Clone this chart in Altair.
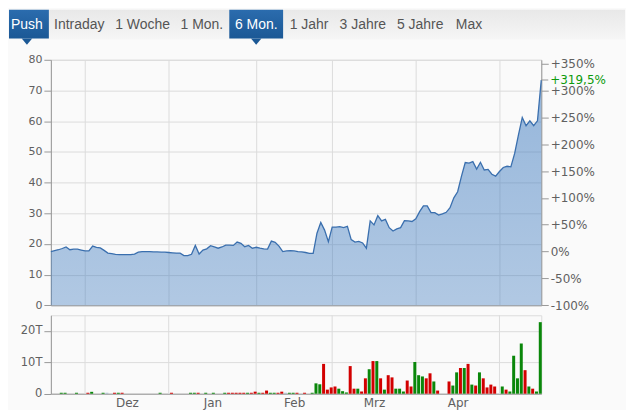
import altair as alt
import pandas as pd

# ---------------- data ----------------
START_DATE = "2019-11-19"
END_DATE = "2020-05-18"

PRICE = [
    17.5, 17.8, 18.1, 18.5, 19.0, 18.1, 18.3, 18.3, 18.0, 17.7,
    17.7, 19.3, 18.9, 18.7, 17.9, 17.0, 16.8, 16.6, 16.5, 16.5,
    16.5, 16.5, 16.7, 17.3, 17.5, 17.5, 17.5, 17.4, 17.4, 17.3,
    17.3, 17.2, 17.1, 17.0, 17.0, 16.2, 16.2, 16.6, 19.5, 16.7,
    18.0, 18.4, 19.4, 19.0, 18.6, 19.0, 19.6, 19.6, 19.5, 20.6,
    20.2, 19.1, 19.5, 18.6, 18.9, 18.6, 18.4, 18.3, 20.9, 20.5,
    19.3, 17.5, 17.7, 17.8, 17.7, 17.5, 17.4, 17.2, 16.9, 16.9,
    23.5, 27.0, 24.5, 20.7, 25.5, 25.5, 25.6, 25.3, 25.7, 21.4,
    20.6, 20.8, 20.3, 18.6, 27.5, 26.2, 29.2, 27.5, 28.0, 25.3,
    24.2, 24.9, 25.3, 27.6, 27.5, 27.3, 28.2, 30.5, 32.4, 32.4,
    30.2, 30.2, 29.4, 29.8, 30.3, 31.8, 35.0, 37.0, 42.0, 46.5,
    46.3, 46.8, 44.4, 46.6, 44.1, 44.3, 42.7, 42.1, 43.6, 44.9,
    45.3, 45.1, 49.5, 55.5, 61.2, 58.5, 60.1, 58.5, 60.1, 73.41,
]

# volume in thousands (T)
VOLUME = [
    0, 0, 0, 0.3, 0.3, 0, 0, 0.3, 0, 0,
    0.3, 0.6, 0, 0, 0.3, 0.3, 0, 0.3, 0.3, 0.3,
    0, 0, 0, 0, 0, 0, 0, 0, 0, 0.3,
    0, 0, 0.3, 0, 0, 0, 0, 0.3, 0.3, 0.3,
    0, 0.3, 0, 0.3, 0, 0, 0.3, 0.3, 0.3, 0.3,
    0.3, 0.3, 0.3, 0.3, 0.65, 0.3, 0.3, 1.0, 0.3, 0.3,
    0.3, 0.65, 0.3, 0.3, 0.3, 0.3, 0, 0.3, 0, 0.3,
    3.3, 3.0, 9.5, 1.3, 2.0, 2.3, 1.6, 0.8, 0.4, 8.8,
    1.6, 1.6, 0.7, 4.9, 7.8, 10.4, 10.4, 4.9, 1.3, 5.9,
    5.2, 1.6, 1.6, 0.7, 4.2, 2.3, 10.1, 5.9, 5.5, 4.9,
    6.5, 3.9, 1.0, 0, 0, 3.9, 2.6, 6.8, 8.2, 8.2,
    9.5, 2.9, 2.6, 6.8, 4.9, 2.0, 2.9, 2.3, 0, 2.3,
    1.3, 0.7, 12.1, 4.9, 16.0, 7.5, 2.3, 1.6, 0.7, 22.8,
]

DIRECTION = [
    "", "", "", "u", "u", "", "", "u", "", "",
    "d", "u", "", "", "u", "f", "", "d", "u", "d",
    "", "", "", "", "", "", "", "", "", "u",
    "", "", "d", "", "", "", "", "u", "u", "d",
    "", "u", "", "u", "", "", "u", "d", "d", "d",
    "d", "d", "u", "d", "d", "u", "d", "d", "u", "u",
    "d", "d", "f", "u", "u", "d", "", "d", "", "u",
    "u", "u", "d", "d", "d", "d", "u", "u", "u", "d",
    "d", "u", "d", "d", "u", "d", "u", "d", "u", "d",
    "d", "u", "u", "u", "d", "d", "u", "u", "u", "d",
    "d", "u", "d", "", "", "d", "u", "u", "d", "u",
    "d", "u", "d", "u", "d", "d", "d", "d", "", "u",
    "d", "u", "u", "u", "u", "d", "u", "d", "u", "u",
]

MONTH_LABELS = ["Dez", "Jan", "Feb", "Mrz", "Apr"]
PRICE_TICKS = [0, 10, 20, 30, 40, 50, 60, 70, 80]
PCT_TICKS = [-100, -50, 0, 50, 100, 150, 200, 250, 300, 350]
VOL_TICKS = [0, 10, 20]

TABS = ["Push", "Intraday", "1 Woche", "1 Mon.", "6 Mon.", "1 Jahr", "3 Jahre", "5 Jahre", "Max"]
ACTIVE_TABS = ["Push", "6 Mon."]

# ---------------- layout / style ----------------
PLOT_W = 492
MAIN_H = 246.3
VOL_H = 78.7
SPACING = 9.3
HDR_TOP, HDR_BOTTOM = 8, 48.4
TAB_CX = [26, 78.5, 142, 201.5, 256, 309, 363, 420.5, 469.5]
ACTIVE_BOX = {"Push": (8, 48), "6 Mon.": (229, 283)}

GRID = "#dcdcdc"
AXIS = "#999999"
LABEL = "#606060"
LINE = "#3a6fae"
GREEN_TXT = "#0c9a0c"
BAR_UP, BAR_DOWN, BAR_FLAT = "#0a870a", "#d20000", "#a9bdd1"
FONT = "DejaVu Sans"
TAB_FONT = "Liberation Sans, Arial, sans-serif"

# ---------------- derived tables ----------------
dates = pd.bdate_range(START_DATE, END_DATE)
n = len(dates)
idx = list(range(n))
base = PRICE[0]
df = pd.DataFrame({"i": idx, "date": dates, "price": PRICE,
                   "vol": VOLUME, "dir": DIRECTION})
df["pct"] = (df["price"] / base - 1) * 100

month_starts = [i for i in range(1, n) if dates[i].month != dates[i - 1].month]
month_mids = [(a + b) / 2 for a, b in zip(month_starts[:-1], month_starts[1:])]
label_expr = ""
for v, lab in zip(month_mids, MONTH_LABELS):
    label_expr += f"datum.value == {v} ? '{lab}' : "
label_expr += "''"

last = df.iloc[[-1]].copy()
last_pct = (PRICE[-1] / base - 1) * 100
last["label"] = ("+" if last_pct > 0 else "") + f"{last_pct:.1f}%".replace(".", ",")
pct_top = (PRICE_TICKS[-1] / base - 1) * 100

xscale = alt.Scale(domain=[0, n - 1], nice=False, zero=False, padding=0)
pscale = alt.Scale(domain=[PRICE_TICKS[0], PRICE_TICKS[-1]], nice=False, zero=False)

# ---------------- main price panel ----------------
area_fill = alt.Gradient(
    gradient="linear",
    stops=[alt.GradientStop(color="rgba(58,120,190,0.52)", offset=0),
           alt.GradientStop(color="rgba(58,120,190,0.38)", offset=1)],
    x1=1, x2=1, y1=0, y2=1,
)

area = alt.Chart(df).mark_area(
    color=area_fill, opacity=1, fillOpacity=1,
    line={"color": LINE, "strokeWidth": 1.3, "opacity": 1}
).encode(
    x=alt.X("i:Q", scale=xscale, title=None,
            axis=alt.Axis(values=month_starts, grid=True, gridColor=GRID, labels=False,
                          ticks=False, domain=True, domainColor=AXIS)),
    y=alt.Y("price:Q", scale=pscale, title=None,
            axis=alt.Axis(values=PRICE_TICKS, grid=True, gridColor=GRID, tickSize=7,
                          tickColor=AXIS, domainColor=AXIS, labelPadding=2,
                          labelFont=FONT, labelFontSize=11, labelColor=LABEL,
                          labelOverlap=False)),
)

right_axis = alt.Chart(last).mark_rule(opacity=0).encode(
    y=alt.Y("pct:Q", title=None,
            scale=alt.Scale(domain=[-100, pct_top], nice=False, zero=False),
            axis=alt.Axis(orient="right", values=PCT_TICKS, grid=False, tickSize=7,
                          tickColor=AXIS, domainColor=AXIS, labelPadding=2,
                          labelFont=FONT, labelFontSize=12, labelColor=LABEL,
                          labelOverlap=False,
                          labelExpr="(datum.value > 0 ? '+' : '') + datum.value + '%'")),
)

last_tick = alt.Chart(last).mark_rule(color=AXIS).encode(
    x=alt.value(PLOT_W), x2=alt.value(PLOT_W + 7),
    y=alt.Y("price:Q", scale=pscale, axis=None),
)

last_label = alt.Chart(last).mark_text(
    align="left", baseline="middle", font=FONT, fontSize=12, color=GREEN_TXT
).encode(
    x=alt.value(PLOT_W + 9),
    y=alt.Y("price:Q", scale=pscale, axis=None),
    text="label:N",
)

main = alt.layer(area, right_axis, last_tick, last_label).resolve_scale(
    y="independent"
).properties(width=PLOT_W, height=MAIN_H)

# ---------------- volume panel ----------------
vol_df = df[df["vol"] > 0]

vol_x_axis = alt.Axis(values=month_mids, labelExpr=label_expr, grid=False, ticks=False,
                      domainColor=AXIS, labelPadding=4, labelFont=FONT,
                      labelFontSize=12, labelColor=LABEL, labelOverlap=False,
                      labelFlush=False)

month_rules = alt.Chart(pd.DataFrame({"i": month_starts})).mark_rule(
    color=GRID
).encode(x=alt.X("i:Q", scale=xscale, title=None, axis=vol_x_axis))

bars = alt.Chart(vol_df).mark_bar(size=3, xOffset=-1, opacity=1).encode(
    x=alt.X("i:Q", scale=xscale, title=None, axis=vol_x_axis),
    y=alt.Y("vol:Q", title=None,
            scale=alt.Scale(domain=[0, 25], nice=False, zero=True),
            axis=alt.Axis(values=VOL_TICKS, grid=True, gridColor=GRID, tickSize=7,
                          tickColor=AXIS, domainColor=AXIS, labelPadding=2,
                          labelFont=FONT, labelFontSize=11.5, labelColor=LABEL,
                          labelExpr="datum.value == 0 ? '0' : datum.value + 'T'")),
    color=alt.Color("dir:N", legend=None,
                    scale=alt.Scale(domain=["u", "d", "f"], range=[BAR_UP, BAR_DOWN, BAR_FLAT])),
)

volume = alt.layer(month_rules, bars).properties(width=PLOT_W, height=VOL_H)

# ---------------- tab bar ----------------
hx = alt.Scale(domain=[50, 50 + PLOT_W], nice=False, zero=False)
hy = alt.Scale(domain=[HDR_BOTTOM, HDR_TOP], nice=False, zero=False)

bar_bg = alt.Chart(pd.DataFrame({"x": [8], "x2": [626], "y": [8], "y2": [38]})).mark_rect(
    color=alt.Gradient(gradient="linear",
                       stops=[alt.GradientStop(color="#e8e8e8", offset=0),
                              alt.GradientStop(color="#f6f6f6", offset=1)],
                       x1=0, x2=0, y1=0, y2=1)
).encode(x=alt.X("x:Q", scale=hx, axis=None), x2="x2",
         y=alt.Y("y:Q", scale=hy, axis=None), y2="y2")

btn_df = pd.DataFrame({
    "x": [ACTIVE_BOX[t][0] for t in ACTIVE_TABS],
    "x2": [ACTIVE_BOX[t][1] for t in ACTIVE_TABS],
    "cx": [TAB_CX[TABS.index(t)] for t in ACTIVE_TABS],
    "y": [8] * len(ACTIVE_TABS), "y2": [37] * len(ACTIVE_TABS),
})
btn_fill = alt.Gradient(gradient="linear",
                        stops=[alt.GradientStop(color="#2b6cae", offset=0),
                               alt.GradientStop(color="#1b5895", offset=1)],
                        x1=0, x2=0, y1=0, y2=1)
buttons = alt.Chart(btn_df).mark_rect(color=btn_fill).encode(
    x=alt.X("x:Q", scale=hx, axis=None), x2="x2",
    y=alt.Y("y:Q", scale=hy, axis=None), y2="y2")
pointers = alt.Chart(btn_df).mark_point(
    shape="M-1,0L1,0L0,1.2Z", filled=True, size=110, color="#1b5895", opacity=1
).encode(x=alt.X("cx:Q", scale=hx, axis=None), y=alt.Y("y2:Q", scale=hy, axis=None))

tab_df = pd.DataFrame({"tab": TABS, "cx": TAB_CX, "ty": [27.3] * len(TABS),
                       "active": [t in ACTIVE_TABS for t in TABS]})
tab_on = alt.Chart(tab_df[tab_df["active"]]).mark_text(
    font=TAB_FONT, fontSize=14, baseline="alphabetic", align="center", color="#ffffff"
).encode(x=alt.X("cx:Q", scale=hx, axis=None), y=alt.Y("ty:Q", scale=hy, axis=None),
         text="tab:N")
tab_off = alt.Chart(tab_df[~tab_df["active"]]).mark_text(
    font=TAB_FONT, fontSize=14, baseline="alphabetic", align="center", color="#555555"
).encode(x=alt.X("cx:Q", scale=hx, axis=None), y=alt.Y("ty:Q", scale=hy, axis=None),
         text="tab:N")

header = alt.layer(bar_bg, buttons, pointers, tab_on, tab_off).properties(
    width=PLOT_W, height=HDR_BOTTOM - HDR_TOP,
    view=alt.ViewBackground(stroke="transparent"),
)

chart = alt.vconcat(header, main, volume, spacing=SPACING, bounds="flush").resolve_scale(
    color="independent"
).configure(background="#fafafa", padding=0).configure_view(stroke=GRID)

chart.save("out.html", embed_options={"renderer": "svg", "actions": False})
